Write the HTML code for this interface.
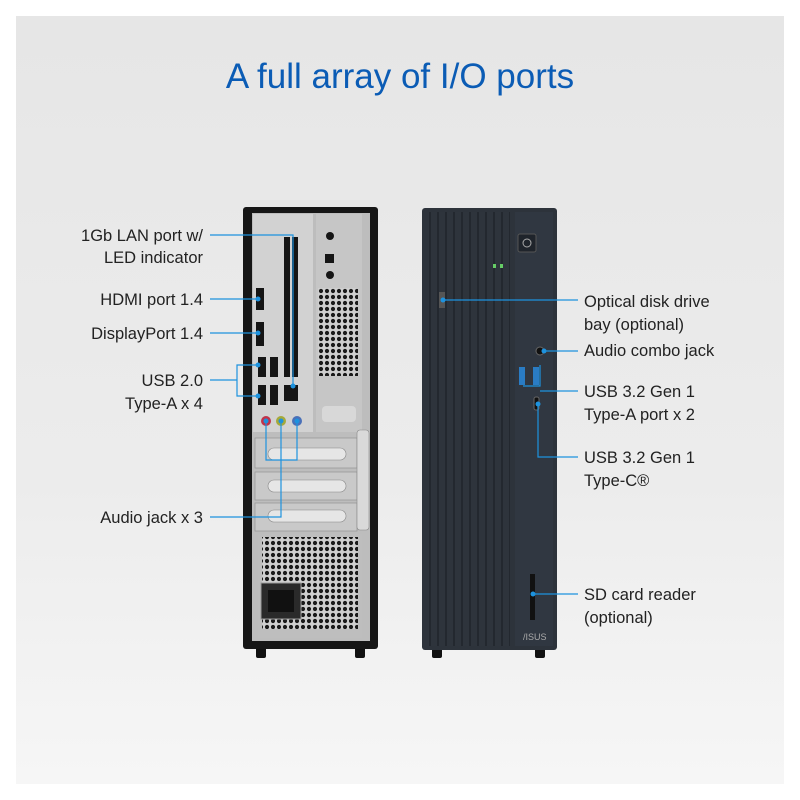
<!DOCTYPE html>
<html><head><meta charset="utf-8"><style>
html,body{margin:0;padding:0;background:#fff}
body{width:800px;height:800px;position:relative;font-family:"Liberation Sans",sans-serif;overflow:hidden}
svg{position:absolute;left:0;top:0}
</style></head><body>
<svg width="800" height="800" viewBox="0 0 800 800" xmlns="http://www.w3.org/2000/svg">
<defs>
<linearGradient id="bg" x1="0" y1="0" x2="0" y2="1"><stop offset="0" stop-color="#e6e6e6"/><stop offset="0.6" stop-color="#ececec"/><stop offset="1" stop-color="#f6f6f6"/></linearGradient>
<pattern id="hex" width="6" height="6" patternUnits="userSpaceOnUse"><rect width="6" height="6" fill="#cfcfcf"/><circle cx="3" cy="3" r="2.1" fill="#1a1a1a"/></pattern>
<pattern id="rib" width="8" height="10" patternUnits="userSpaceOnUse"><rect width="8" height="10" fill="#2e343c"/><rect x="5" width="2" height="10" fill="#23282f"/></pattern>
</defs>
<rect x="16" y="16" width="768" height="768" fill="url(#bg)"/>
<text x="400" y="88" text-anchor="middle" font-size="35" fill="#0b5cb5" font-family="Liberation Sans">A full array of I/O ports</text>

<!-- rear -->
<rect x="256" y="646" width="10" height="12" rx="2" fill="#111"/><rect x="355" y="646" width="10" height="12" rx="2" fill="#111"/>
<rect x="243" y="207" width="135" height="442" rx="3" fill="#161616"/>
<rect x="252" y="213" width="118" height="428" fill="#bdbdbd"/>
<rect x="253" y="214" width="60" height="218" fill="#d2d2d2"/>
<rect x="316" y="214" width="46" height="218" fill="#c6c6c6"/>
<g fill="#151515">
<rect x="284" y="237" width="6" height="140"/><rect x="292" y="237" width="6" height="140"/>
<rect x="318" y="288" width="40" height="88" fill="url(#hex)"/>
<circle cx="330" cy="236" r="4"/><circle cx="330" cy="275" r="4"/><rect x="325" y="254" width="9" height="9"/>
<rect x="256" y="288" width="8" height="22"/><rect x="256" y="322" width="8" height="24"/>
<rect x="258" y="357" width="8" height="20"/><rect x="270" y="357" width="8" height="20"/>
<rect x="258" y="385" width="8" height="20"/><rect x="270" y="385" width="8" height="20"/>
<rect x="284" y="385" width="14" height="16"/>
</g>
<circle cx="266" cy="421" r="5" fill="#c0334a"/><circle cx="281" cy="421" r="5" fill="#a5a93a"/><circle cx="297" cy="421" r="5" fill="#4a70b8"/>
<circle cx="266" cy="421" r="2" fill="#222"/><circle cx="281" cy="421" r="2" fill="#222"/><circle cx="297" cy="421" r="2" fill="#222"/>
<rect x="322" y="406" width="34" height="16" rx="4" fill="#d8d8d8"/>
<g fill="#c9c9c9" stroke="#999" stroke-width="0.8">
<rect x="255" y="438" width="102" height="30"/><rect x="255" y="472" width="102" height="28"/><rect x="255" y="503" width="102" height="28"/>
</g>
<g fill="#e6e6e6" stroke="#888" stroke-width="0.6"><rect x="268" y="448" width="78" height="12" rx="6"/><rect x="268" y="480" width="78" height="12" rx="6"/><rect x="268" y="510" width="78" height="12" rx="6"/></g>
<rect x="357" y="430" width="12" height="100" rx="3" fill="#d9d9d9" stroke="#888" stroke-width="0.6"/>
<rect x="258" y="534" width="104" height="104" fill="#bebebe"/>
<rect x="262" y="537" width="96" height="92" fill="url(#hex)"/>
<rect x="261" y="583" width="40" height="36" fill="#2a2a2a" stroke="#999"/>
<rect x="268" y="590" width="26" height="22" fill="#111"/>

<!-- front -->
<rect x="432" y="648" width="10" height="10" rx="2" fill="#111"/><rect x="535" y="648" width="10" height="10" rx="2" fill="#111"/>
<rect x="422" y="208" width="135" height="442" rx="3" fill="#2d333b"/>
<rect x="428" y="212" width="82" height="434" fill="url(#rib)"/>
<rect x="515" y="212" width="38" height="434" fill="#303741"/>
<rect x="518" y="234" width="18" height="18" rx="2" fill="#1f242b" stroke="#555"/>
<circle cx="527" cy="243" r="4" fill="none" stroke="#aaa"/>
<rect x="493" y="264" width="3" height="4" fill="#6c6"/><rect x="500" y="264" width="3" height="4" fill="#6c6"/>
<rect x="439" y="292" width="6" height="16" fill="#555"/>
<circle cx="540" cy="351" r="4" fill="#111" stroke="#666"/>
<rect x="519" y="367" width="6" height="18" fill="#2a7cc4"/><rect x="533" y="367" width="6" height="18" fill="#2a7cc4"/>
<rect x="534" y="397" width="5" height="13" rx="2" fill="#111" stroke="#666"/>
<rect x="530" y="574" width="5" height="46" fill="#111"/>
<text x="523" y="640" font-size="9" fill="#aaa">/ISUS</text>

<!-- connectors -->
<g stroke="#1d92de" stroke-width="1.2" fill="none">
<polyline points="210,235 293,235 293,386"/>
<line x1="210" y1="299" x2="258" y2="299"/>
<line x1="210" y1="333" x2="258" y2="333"/>
<polyline points="258,365 237,365 237,396 258,396"/>
<line x1="210" y1="380" x2="237" y2="380"/>
<polyline points="210,517 281,517 281,421"/>
<polyline points="266,421 266,460 297,460 297,421"/>
<line x1="443" y1="300" x2="578" y2="300"/>
<line x1="544" y1="351" x2="578" y2="351"/>
<polyline points="523,386 540,386 540,365"/><line x1="540" y1="391" x2="578" y2="391"/>
<polyline points="538,404 538,457 578,457"/>
<line x1="533" y1="594" x2="578" y2="594"/>
</g>
<g fill="#1d92de"><circle cx="293" cy="386" r="2.5"/><circle cx="258" cy="299" r="2.5"/><circle cx="258" cy="333" r="2.5"/><circle cx="258" cy="365" r="2.5"/><circle cx="258" cy="396" r="2.5"/><circle cx="266" cy="421" r="2.5"/><circle cx="281" cy="421" r="2.5"/><circle cx="297" cy="421" r="2.5"/><circle cx="443" cy="300" r="2.5"/><circle cx="544" cy="351" r="2.5"/><circle cx="538" cy="404" r="2.5"/><circle cx="533" cy="594" r="2.5"/></g>

<g font-size="16.5" fill="#222" text-anchor="end">
<text x="203" y="241">1Gb LAN port w/</text><text x="203" y="263">LED indicator</text>
<text x="203" y="305">HDMI port 1.4</text>
<text x="203" y="339">DisplayPort 1.4</text>
<text x="203" y="386">USB 2.0</text><text x="203" y="409">Type-A x 4</text>
<text x="203" y="523">Audio jack x 3</text>
</g>
<g font-size="16.5" fill="#222">
<text x="584" y="307">Optical disk drive</text><text x="584" y="330">bay (optional)</text>
<text x="584" y="356">Audio combo jack</text>
<text x="584" y="397">USB 3.2 Gen 1</text><text x="584" y="420">Type-A port x 2</text>
<text x="584" y="463">USB 3.2 Gen 1</text><text x="584" y="486">Type-C®</text>
<text x="584" y="600">SD card reader</text><text x="584" y="623">(optional)</text>
</g>
</svg>
</body></html>
